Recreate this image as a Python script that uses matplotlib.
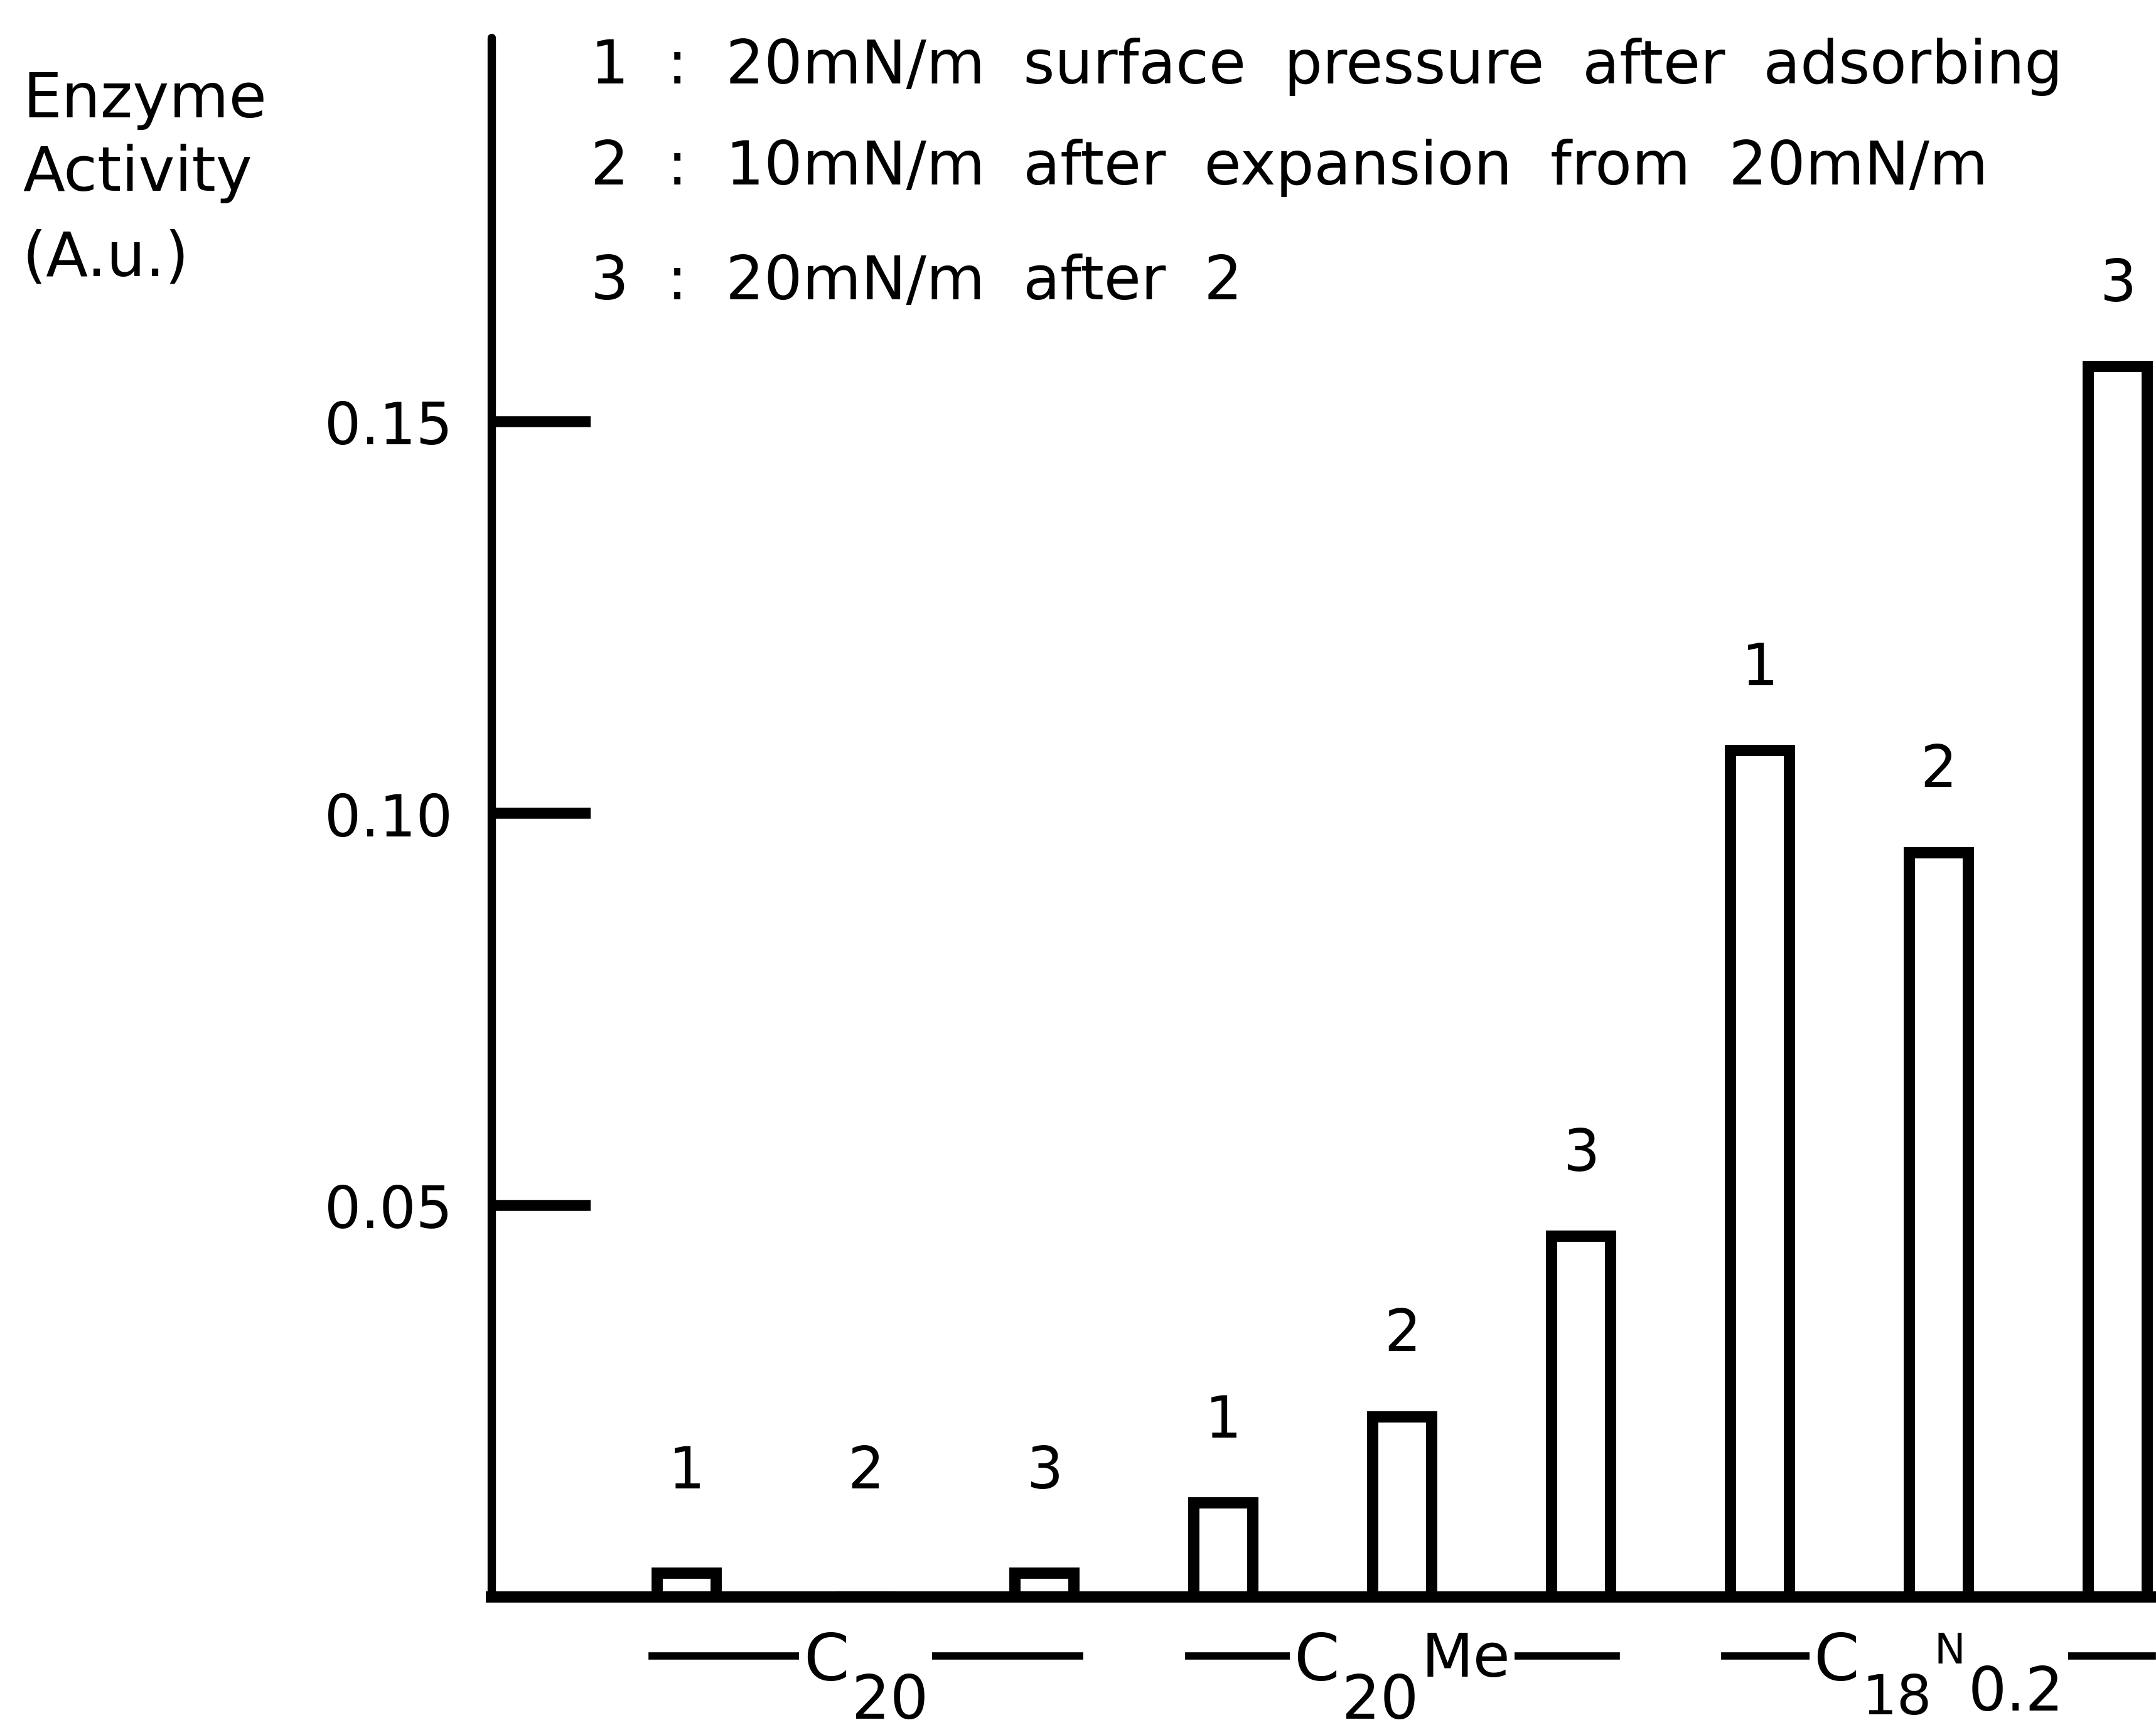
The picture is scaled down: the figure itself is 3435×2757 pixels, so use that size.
import matplotlib
matplotlib.use("Agg")
import matplotlib.pyplot as plt
from matplotlib.offsetbox import TextArea, HPacker, VPacker, DrawingArea, AnnotationBbox

plt.rcParams["font.family"] = ["DejaVu Sans"]

# data
conditions = ["1", "2", "3"]
c20 = [0.003, 0.0, 0.003]
c20_me = [0.012, 0.023, 0.046]
c18_n02 = [0.108, 0.095, 0.157]
series = [c20, c20_me, c18_n02]

# group label pieces: (text, drop below top in pt, fontsize)
group_pieces = [
    [("C", 0, 25), ("20", 16, 23)],
    [("C", 0, 25), ("20", 16, 23), ("Me", 0, 23)],
    [("C", 0, 25), ("18", 16, 21), ("N", 0, 16), ("0.2", 13, 23)],
]

legend_lines = [
    "1  :  20mN/m  surface  pressure  after  adsorbing",
    "2  :  10mN/m  after  expansion  from  20mN/m",
    "3  :  20mN/m  after  2",
]
ylabel_lines = ["Enzyme", "Activity", "(A.u.)"]
yticks = [0.05, 0.10, 0.15]
ytick_labels = ["0.05", "0.10", "0.15"]

bar_width = 0.33

fig = plt.figure(figsize=(11.45, 9.193), dpi=300)
ax = fig.add_axes([0.228, 0.0769, 0.772, 0.9011])

for g, values in enumerate(series):
    xs = [g * 3 + i for i in range(len(values))]
    ax.bar(xs, values, width=bar_width, facecolor="white", edgecolor="black",
           linewidth=4.3, zorder=2)
    for x, v, c in zip(xs, values, conditions):
        ax.text(x, max(v + 0.0105, 0.016), c, ha="center", va="center", fontsize=22)

ax.set_xlim(-1.092, 8.215)
ax.set_ylim(0, 0.199)
ax.set_xticks([])
ax.set_yticks(yticks)
ax.set_yticklabels(ytick_labels)
ax.tick_params(axis="y", direction="in", length=38, width=4.2, pad=15, labelsize=22)
for side in ["top", "right"]:
    ax.spines[side].set_visible(False)
ax.spines["left"].set_linewidth(3.2)
ax.spines["bottom"].set_linewidth(4.3)
ax.spines["bottom"].set_zorder(3)
ax.spines["left"].set_capstyle("round")

# group labels under the axis, with a line spanning the group
trans = ax.get_xaxis_transform()
for g, pieces in enumerate(group_pieces):
    left = g * 3 - bar_width / 2 - 0.03
    right = g * 3 + 2 + bar_width / 2 + 0.03
    ax.plot([left, right], [-0.0378, -0.0378], color="black", lw=2.8,
            transform=trans, clip_on=False)
    kids = []
    for s, drop, size in pieces:
        ta = TextArea(s, textprops=dict(fontsize=size))
        kids.append(VPacker(children=[DrawingArea(0, drop), ta], pad=0, sep=0))
    box = HPacker(children=kids, align="top", pad=0, sep=1)
    ab = AnnotationBbox(box, (g * 3 + 1, -0.0215), xycoords=trans,
                        box_alignment=(0.5, 1.0), frameon=True, pad=0.15,
                        bboxprops=dict(facecolor="white", edgecolor="none"),
                        annotation_clip=False)
    ax.add_artist(ab)

for y, s in zip([0.9322, 0.8898, 0.8405], ylabel_lines):
    fig.text(0.0105, y, s, va="baseline", ha="left", fontsize=23.5)

for y, s in zip([0.9518, 0.8934, 0.8270], legend_lines):
    fig.text(0.274, y, s, va="baseline", ha="left", fontsize=23)

fig.savefig("out.png", dpi=300)
